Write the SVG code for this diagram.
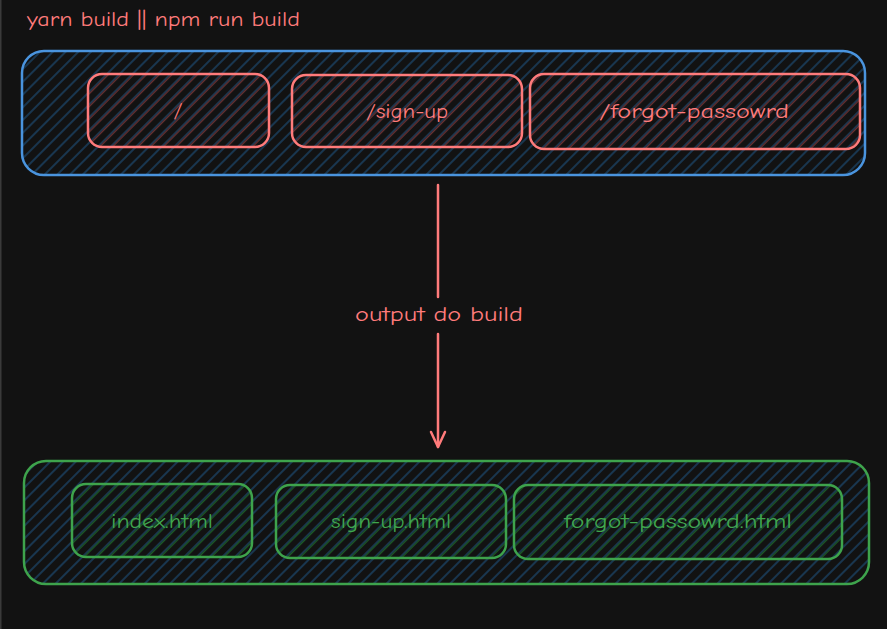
<svg xmlns="http://www.w3.org/2000/svg" width="887" height="629" viewBox="0 0 887 629">
<defs>
<pattern id="hb" patternUnits="userSpaceOnUse" width="9" height="9" patternTransform="rotate(45)"><line x1="2" y1="0" x2="2" y2="9" stroke="#1d4a70" stroke-width="1.3"/></pattern>
<pattern id="hr" patternUnits="userSpaceOnUse" width="9" height="9" patternTransform="rotate(45)"><line x1="3.4" y1="0" x2="3.4" y2="9" stroke="#6a3030" stroke-width="1.3"/></pattern>
<pattern id="hg" patternUnits="userSpaceOnUse" width="9" height="9" patternTransform="rotate(45)"><line x1="3.4" y1="0" x2="3.4" y2="9" stroke="#1c5a25" stroke-width="1.3"/></pattern>
<marker id="ah" markerWidth="20" markerHeight="20" refX="18" refY="10" orient="auto" markerUnits="userSpaceOnUse" viewBox="0 0 20 20"><path d="M3 3 L18 10 L3 17" fill="none" stroke="#ff7b7b" stroke-width="2.5" stroke-linecap="round" stroke-linejoin="round"/></marker>
</defs>
<style>
text{font-family:"Comic Neue","Liberation Sans","Noto Sans",sans-serif;font-size:21px}
.r{fill:#ff7b7b;text-anchor:middle;dominant-baseline:central}
.g{fill:#40a64f;text-anchor:middle;dominant-baseline:central}
.outb{fill:url(#hb);stroke:#4a94de;stroke-width:2.5}
.outg{fill:url(#hb);stroke:#3ea34c;stroke-width:2.5}
.rb{fill:url(#hr);stroke:#ff7b7b;stroke-width:2.5}
.gb{fill:url(#hg);stroke:#3ea34c;stroke-width:2.5}
</style>
<rect width="887" height="629" fill="#121212"/>
<rect x="0" y="0" width="1.5" height="629" fill="#3a3a3a"/>
<text x="27" y="19" fill="#ff7b7b" dominant-baseline="central" textLength="273" lengthAdjust="spacingAndGlyphs">yarn build || npm run build</text>
<g id="routes">
<rect class="outb" x="22" y="51" width="843" height="124" rx="22"/>
<g id="r1"><rect class="rb" x="88" y="74" width="181" height="73" rx="14"/><text class="r" x="178" y="110">/</text></g>
<g id="r2"><rect class="rb" x="292" y="75" width="230" height="72" rx="14"/><text class="r" x="407" y="111" textLength="82" lengthAdjust="spacingAndGlyphs">/sign-up</text></g>
<g id="r3"><rect class="rb" x="530" y="74" width="330" height="75" rx="14"/><text class="r" x="694" y="111" textLength="190" lengthAdjust="spacingAndGlyphs">/forgot-passowrd</text></g>
</g>
<g id="outputs">
<rect class="outg" x="24" y="461" width="845" height="123" rx="22"/>
<g id="o1"><rect class="gb" x="72" y="484" width="180" height="73" rx="14"/><text class="g" x="162" y="521" textLength="102" lengthAdjust="spacingAndGlyphs">index.html</text></g>
<g id="o2"><rect class="gb" x="276" y="485" width="230" height="73" rx="14"/><text class="g" x="391" y="521" textLength="120" lengthAdjust="spacingAndGlyphs">sign-up.html</text></g>
<g id="o3"><rect class="gb" x="514" y="485" width="328" height="74" rx="14"/><text class="g" x="678" y="521" textLength="228" lengthAdjust="spacingAndGlyphs">forgot-passowrd.html</text></g>
</g>
<g id="connectors">
<line x1="438" y1="185" x2="438" y2="297" stroke="#ff7b7b" stroke-width="2.5" stroke-linecap="round"/>
<line x1="438" y1="334" x2="438" y2="447" stroke="#ff7b7b" stroke-width="2.5" stroke-linecap="round" marker-end="url(#ah)"/>
<text class="r" x="439" y="314" textLength="168" lengthAdjust="spacingAndGlyphs">output do build</text>
</g>
</svg>
